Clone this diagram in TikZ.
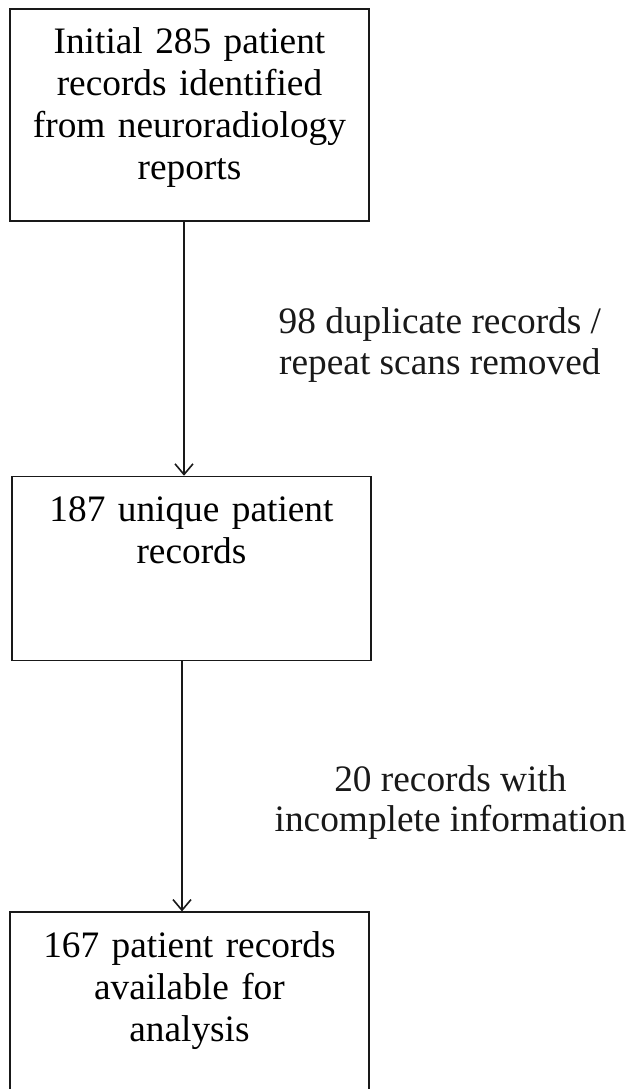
\documentclass[tikz,border=0pt]{standalone}
\usepackage{fontspec}
\setmainfont{Liberation Serif}
\usepackage{tikz}
\usetikzlibrary{arrows.meta, positioning}

\begin{document}
\begin{tikzpicture}[
    rbox/.style={rectangle, draw=black!90, line width=1.3pt, inner sep=0pt, text width=269.25pt, align=center, text height=33.75pt, font=\fontsize{28}{31.5}\selectfont},
    lbl/.style={align=center, inner sep=0pt, font=\fontsize{28}{30.5}\selectfont},
    arr/.style={-{Straight Barb[length=8pt, width=13.5pt, line width=1.2pt]}, line width=1pt, color=black!90}
]
\clip (0,0) rectangle (474.75pt,-816.75pt);

\node[rbox, anchor=north, text depth=125.25pt] (init) at (142.1pt,-6pt) {Initial 285 patient\\records identified\\from neuroradiology\\reports};
\node[rbox, below=190.5pt of init, xshift=1.5pt, text depth=104.25pt] (uniq) {187 unique patient\\records};
\node[rbox, below=187.5pt of uniq, xshift=-1.5pt, text depth=125.25pt] (avail) {167 patient records\\available for\\analysis};

\draw[arr] ([xshift=-4.1pt]init.south) -- node[lbl, right=70.5pt, yshift=3pt] {98 duplicate records /\\repeat scans removed} ([xshift=-4.1pt]init.south |- uniq.north);
\draw[arr] ([xshift=-7.1pt]uniq.south) -- node[lbl, right=69pt, yshift=-12pt] {20 records with\\incomplete information} ([xshift=-7.1pt]uniq.south |- avail.north);

\end{tikzpicture}
\end{document}
